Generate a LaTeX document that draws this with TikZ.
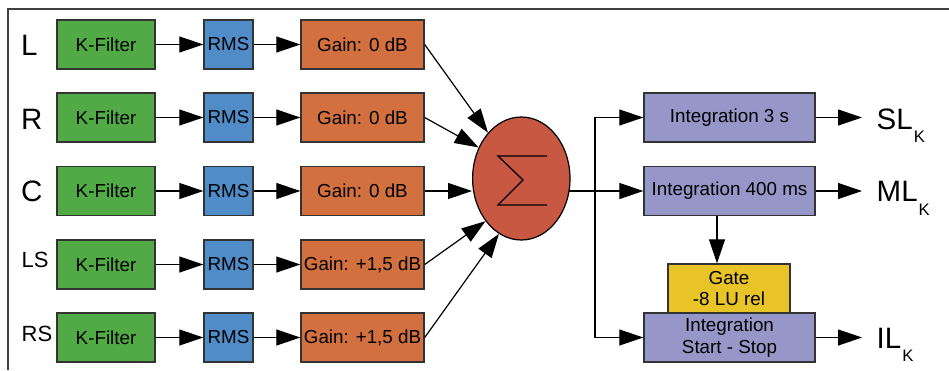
\documentclass[tikz,border=0pt]{standalone}
\usepackage{fontspec}
\setmainfont{Liberation Sans}
\usetikzlibrary{arrows.meta,shapes.geometric}
\definecolor{kgreen}{HTML}{52AA46}
\definecolor{rblue}{HTML}{508CC8}
\definecolor{gorange}{HTML}{D27040}
\definecolor{sred}{HTML}{C85842}
\definecolor{ipurple}{HTML}{9696C8}
\definecolor{gyellow}{HTML}{E8C428}
\definecolor{bord}{HTML}{333333}
\begin{document}
\begin{tikzpicture}[x=1pt,y=-1pt,
  box/.style={draw=bord,line width=1.4pt,inner sep=0pt,minimum height=49pt,align=center,
    font=\fontsize{18.8}{21.5}\selectfont},
  kf/.style={box,fill=kgreen,minimum width=98pt},
  rms/.style={box,fill=rblue,minimum width=49pt},
  gain/.style={box,fill=gorange,minimum width=123pt},
  integ/.style={box,fill=ipurple,minimum width=171pt},
  gatebox/.style={box,fill=gyellow,minimum width=122pt},
  arr/.style={line width=1.2pt,-{Triangle[length=24pt,width=16pt]}},
  conn/.style={line width=1.2pt},
  biglab/.style={anchor=base west,inner sep=0pt,font=\fontsize{29.5}{30}\selectfont},
  smalllab/.style={anchor=base west,inner sep=0pt,font=\fontsize{22}{24}\selectfont},
  outlab/.style={anchor=base west,inner sep=0pt,font=\fontsize{29.5}{30}\selectfont}
]
\useasboundingbox (0,0) rectangle (949,370);
\fill[white] (0,0) rectangle (949,370);
\draw[line width=1.6pt,draw=black!75] (8,370) -- (8,9) -- (949,9);

% row labels
\node[biglab] (lL) at (21,55) {L};
\node[biglab] (lR) at (21,129) {R};
\node[biglab] (lC) at (21,201) {C};
\node[smalllab] (lLS) at (21.5,267) {LS};
\node[smalllab] (lRS) at (21.5,341) {RS};

% rows
\foreach \n/\y/\g in {1/44.5/0 dB,2/117.5/0 dB,3/191/0 dB,4/264.5/+1{,}5 dB,5/337.5/+1{,}5 dB}{
  \node[kf] (kf\n) at (106,\y) {K-Filter};
  \node[rms] (rms\n) at (228.5,\y) {RMS};
  \node[gain] (gain\n) at (362.5,\y) {Gain: \g};
  \draw[arr] (kf\n.east) -- (rms\n.west);
  \draw[arr] (rms\n.east) -- (gain\n.west);
}

% sum
\node[ellipse,draw=black,line width=1.2pt,fill=sred,minimum width=97.4pt,minimum height=123pt,inner sep=0pt] (sum) at (521.3,178.5) {};
\draw[line width=1.3pt,line join=miter] (547,156) -- (498,156) -- (523,180) -- (498,205) -- (547,205);

\draw[arr] (gain1.east) -- (sum.126.4);
\draw[arr] (gain2.east) -- (sum.144.6);
\draw[arr] (gain3.east) -- (gain3.east -| sum.west);
\draw[arr] (gain4.east) -- (sum.230.2);
\draw[arr] (gain5.east) -- (sum.248.5);

% integration
\node[integ] (int1) at (729.5,117.5) {Integration 3 s};
\node[integ] (int2) at (729.5,191) {Integration 400 ms};
\node[gatebox] (gate) at (729,288.5) {Gate\\-8 LU rel};
\node[integ] (int3) at (729.5,337.5) {Integration\\Start - Stop};

\coordinate (so) at (569,191);
\coordinate (br) at (595,191);
\draw[conn] (so) -- (br);
\draw[arr] (br) -- (int2.west);
\draw[arr] (br) |- (int1.west);
\draw[arr] (br) |- (int3.west);
\draw[arr] ([xshift=-12.5pt]int2.south) -- ([xshift=-12pt]gate.north);

\coordinate (t1) at (862,117.5);
\coordinate (t2) at (862,191);
\coordinate (t3) at (862,337.5);
\draw[arr] (int1.east) -- (t1);
\draw[arr] (int2.east) -- (t2);
\draw[arr] (int3.east) -- (t3);

\node[outlab] (slk) at (876.5,129) {SL\kern1pt\raisebox{-13pt}{\fontsize{16.7}{17}\selectfont K}};
\node[outlab] (mlk) at (876.5,201.5) {ML\kern1pt\raisebox{-13.5pt}{\fontsize{16.7}{17}\selectfont K}};
\node[outlab] (ilk) at (876.5,348) {IL\kern1pt\raisebox{-13.5pt}{\fontsize{16.7}{17}\selectfont K}};
\end{tikzpicture}
\end{document}
